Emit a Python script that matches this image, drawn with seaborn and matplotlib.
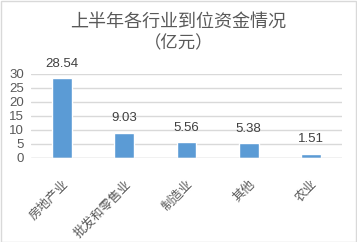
import matplotlib
matplotlib.use("Agg")
import matplotlib.pyplot as plt
import seaborn as sns
import pandas as pd
from matplotlib.patches import Rectangle

categories = ["房地产业", "批发和零售业", "制造业", "其他", "农业"]
values = [28.54, 9.03, 5.56, 5.38, 1.51]
yticks = [0, 5, 10, 15, 20, 25, 30]

sns.set_theme(style="white")
plt.rcParams['font.family'] = ['Noto Sans CJK SC', 'DejaVu Sans']

df = pd.DataFrame({"cat": categories, "val": values})

fig = plt.figure(figsize=(3.57, 2.42), dpi=100)
ax = fig.add_axes([31/357, (242-158)/242, 311/357, 84/242])
sns.barplot(data=df, x="cat", y="val", color="#5B9BD5", width=0.32, ax=ax, saturation=1)

ax.set_ylim(0, 30)
ax.set_xlim(-0.5, len(categories) - 0.5)
ax.set_yticks(yticks)
ax.set_yticklabels([str(t) for t in yticks], fontsize=9.5, color="#595959", family=['Liberation Sans'])
ax.yaxis.grid(True, color="#D9D9D9", linewidth=1)
ax.set_axisbelow(True)
for s in ax.spines.values():
    s.set_visible(False)
ax.axhline(0, color="#D9D9D9", linewidth=1, zorder=1)
ax.tick_params(axis='both', length=0, pad=5)
ax.set_xlabel("")
ax.set_ylabel("")
ax.set_xticks(range(len(categories)))
ax.set_xticklabels(categories, rotation=45, ha="right", va="top", rotation_mode="anchor",
                   fontsize=9, color="#595959")
ax.tick_params(axis='x', pad=14)

for i, v in enumerate(values):
    ax.text(i, v + 3, f"{v:.2f}", ha="center", va="bottom", fontsize=9.5,
            color="#404040", family=['Liberation Sans'])

fig.text(0.5, 1 - 22/242, "上半年各行业到位资金情况", ha="center", va="center",
         fontsize=13, color="#595959")
fig.text(0.5, 1 - 43/242, "（亿元）", ha="center", va="center",
         fontsize=12.5, color="#595959")

fig.patches.append(Rectangle((0.5/357, 0.5/242), 1 - 1.5/357, 1 - 1.5/242, transform=fig.transFigure,
                             fill=False, edgecolor="#D9D9D9", linewidth=1))

fig.savefig("out.png", dpi=100)
